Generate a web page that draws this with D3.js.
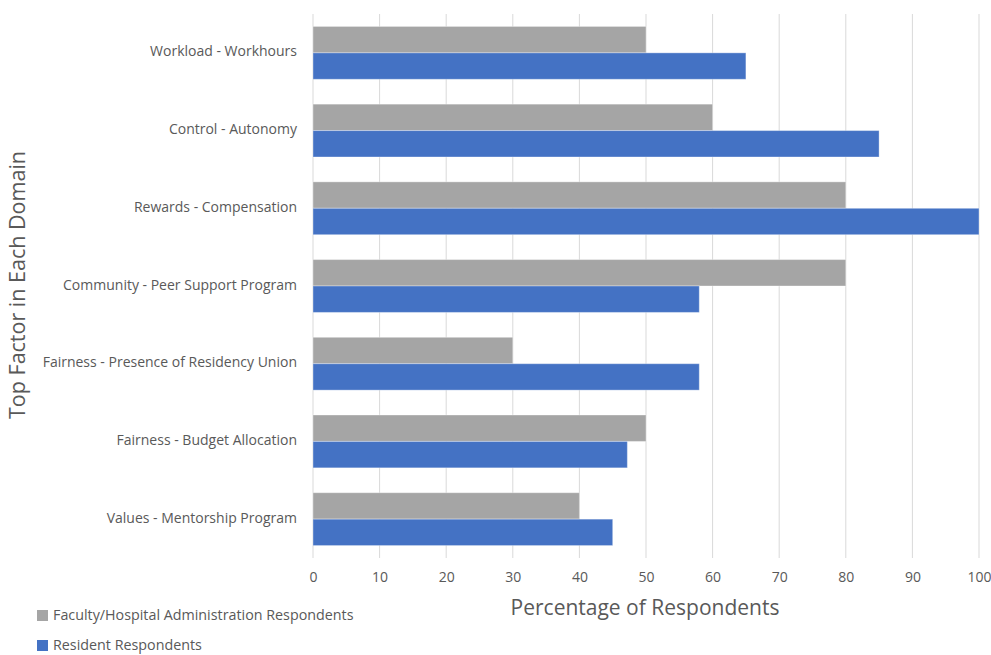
<!DOCTYPE html>
<html>
<head>
<meta charset="utf-8">
<script src="https://cdn.jsdelivr.net/npm/d3@7"></script>
<style>
  body { margin: 0; background: #fff; }
  text { font-family: "Open Sans", "Noto Sans", sans-serif; fill: #595959; }
</style>
</head>
<body>
<svg id="chart" width="991" height="655"></svg>
<script>
// categories and series
const categories = [
  "Workload - Workhours",
  "Control - Autonomy",
  "Rewards - Compensation",
  "Community - Peer Support Program",
  "Fairness - Presence of Residency Union",
  "Fairness - Budget Allocation",
  "Values - Mentorship Program"
];
const seriesNames = ["Faculty/Hospital Administration Respondents", "Resident Respondents"];
const facultyValues = [50, 60, 80, 80, 30, 50, 40];
const residentValues = [65, 85, 100, 58, 58, 47.2, 45];
const xTicks = [0, 10, 20, 30, 40, 50, 60, 70, 80, 90, 100];
const seriesColors = ["#A5A5A5", "#4472C4"];

const svg = d3.select("#chart");
const margin = { left: 313, right: 12, top: 14, bottom: 97 };
const width = 991, height = 655;

const x = d3.scaleLinear().domain([0, 100]).range([margin.left, width - margin.right]);
const y = d3.scaleBand().domain(categories).range([margin.top, height - margin.bottom]).paddingInner(0.32).paddingOuter(0.16);
const ySub = d3.scaleBand().domain([0, 1]).range([0, y.bandwidth()]);

// gridlines
svg.append("g")
  .selectAll("line")
  .data(xTicks)
  .join("line")
  .attr("x1", d => x(d)).attr("x2", d => x(d))
  .attr("y1", margin.top).attr("y2", height - margin.bottom)
  .attr("stroke", "#D9D9D9")
  .attr("stroke-width", 1);

// bars
const rows = categories.map((c, i) => ({ cat: c, vals: [facultyValues[i], residentValues[i]] }));
const groups = svg.append("g")
  .selectAll("g")
  .data(rows)
  .join("g")
  .attr("transform", d => `translate(0,${y(d.cat)})`);

groups.selectAll("rect")
  .data(d => d.vals.map((v, k) => ({ v, k })))
  .join("rect")
  .attr("x", x(0))
  .attr("y", d => ySub(d.k))
  .attr("width", d => x(d.v) - x(0))
  .attr("height", ySub.bandwidth())
  .attr("fill", d => seriesColors[d.k])
  .attr("stroke", "#fff")
  .attr("stroke-opacity", 0.35)
  .attr("stroke-width", 1);

// x axis tick labels
const xAxis = svg.append("g")
  .attr("transform", `translate(0,${height - margin.bottom})`)
  .call(d3.axisBottom(x).tickValues(xTicks).tickSize(0).tickPadding(14));
xAxis.select(".domain").remove();
xAxis.selectAll("text").style("font-size", "14px").style("fill", "#595959").style("font-family", "'Open Sans', sans-serif");

// y axis category labels
const yAxis = svg.append("g")
  .attr("transform", `translate(${margin.left},0)`)
  .call(d3.axisLeft(y).tickSize(0).tickPadding(16));
yAxis.select(".domain").remove();
yAxis.selectAll("text")
  .attr("dy", "0.25em")
  .style("font-size", "14px").style("fill", "#595959").style("font-family", "'Open Sans', sans-serif");

// axis titles
svg.append("text")
  .attr("x", 645).attr("y", 615)
  .attr("text-anchor", "middle")
  .style("font-size", "21px")
  .text("Percentage of Respondents");

svg.append("text")
  .attr("transform", "translate(25,285) rotate(-90)")
  .attr("text-anchor", "middle")
  .style("font-size", "21.5px")
  .text("Top Factor in Each Domain");

// legend
const legend = svg.append("g")
  .selectAll("g")
  .data(seriesNames)
  .join("g")
  .attr("transform", (d, i) => `translate(37,${610 + i * 30})`);
legend.append("rect")
  .attr("width", 11).attr("height", 11)
  .attr("fill", (d, i) => seriesColors[i]);
legend.append("text")
  .attr("x", 16).attr("y", 10)
  .style("font-size", "14.3px")
  .text(d => d);
</script>
</body>
</html>
